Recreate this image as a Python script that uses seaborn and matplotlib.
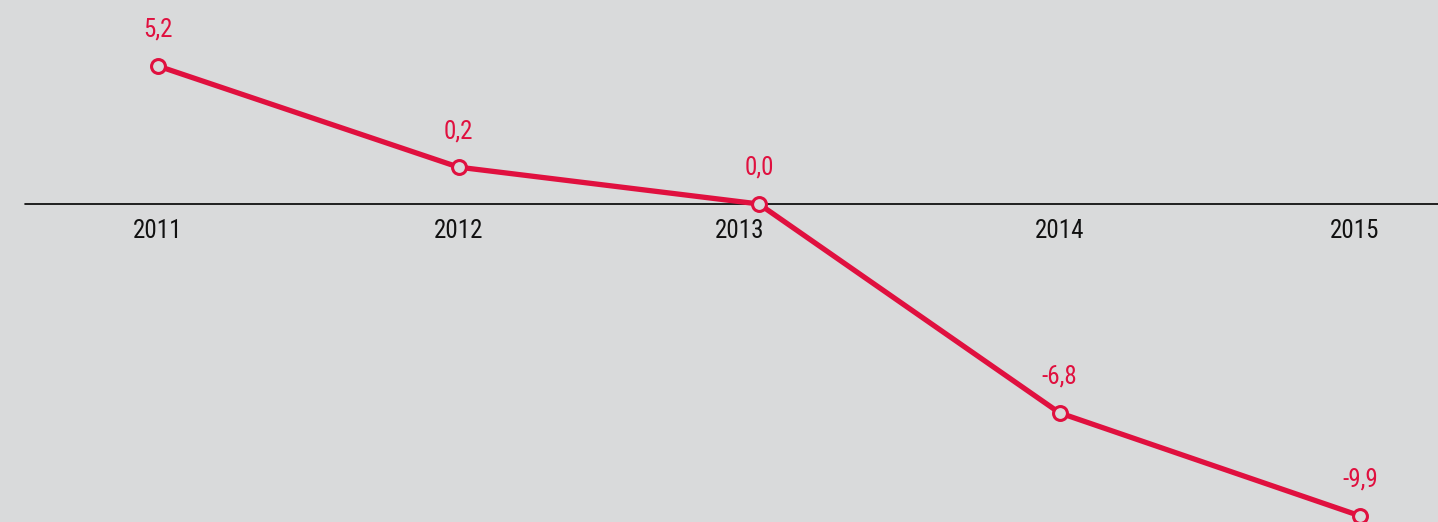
import matplotlib
matplotlib.use("Agg")
import matplotlib.pyplot as plt
import seaborn as sns
import pandas as pd
from matplotlib import font_manager

years = ["2011", "2012", "2013", "2014", "2015"]
values = [4.38, 1.17, 0.0, -6.63, -9.9]
value_labels = ["5,2", "0,2", "0,0", "-6,8", "-9,9"]

sns.set_theme(style="white")
installed = {f.name for f in font_manager.fontManager.ttflist}
fams = [f for f in ['Roboto Condensed', 'Liberation Sans Narrow', 'Arial Narrow', 'Roboto', 'DejaVu Sans'] if f in installed]
plt.rcParams['font.family'] = fams
narrow = fams[0] in ('Roboto Condensed', 'Liberation Sans Narrow', 'Arial Narrow')
fs = 18 if narrow else 16.5

bg = "#d9dadb"
red = "#e0103f"

fig = plt.figure(figsize=(14.38, 5.22), dpi=100, facecolor=bg)
ax = fig.add_axes([0, 0, 1, 1])
ax.set_facecolor(bg)

df = pd.DataFrame({"x": range(len(years)), "y": values})
ax.axhline(0, xmin=25/1438, xmax=1, color="black", lw=1.2, zorder=1)
sns.lineplot(data=df, x="x", y="y", ax=ax, color=red, lw=3.8, marker="o",
             markersize=10, markerfacecolor=bg, markeredgecolor=red,
             markeredgewidth=2.2, zorder=3)

xoff = [0, 0, -19, 0, -5]
for i, (yr, v, lab) in enumerate(zip(years, values, value_labels)):
    ax.annotate(lab, (i, v), xytext=(0, 26), textcoords="offset points",
                ha="center", va="center", color=red, fontsize=fs)
    ax.annotate(yr, (i, 0), xytext=(xoff[i] * 0.72, -19.5), textcoords="offset points",
                ha="center", va="center", color="#111111", fontsize=fs)

ax.set_xlim(-158/300.5, (1438-158)/300.5)
ax.set_ylim(-318/31.5, 204/31.5)
ax.set_axis_off()

fig.savefig("out.png", dpi=100, facecolor=bg)
